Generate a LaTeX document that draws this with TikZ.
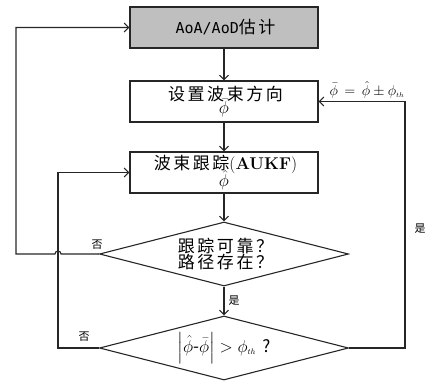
\documentclass[tikz,border=0pt]{standalone}
\usepackage{fontspec}
\usepackage{amsmath}
\newfontfamily\cjk[LetterSpace=15]{Noto Sans CJK SC}
\newfontfamily\monof{DejaVu Sans Mono}
\usetikzlibrary{shapes.geometric,arrows.meta}
\begin{document}
\begin{tikzpicture}[x=1pt,y=1pt,
  line width=1.1pt, draw=black!85,
  every node/.style={font=\cjk},
  box/.style={draw, line width=1.1pt, rectangle, minimum width=188pt, minimum height=41pt, inner sep=0pt, align=center},
  dia/.style={draw, line width=1.1pt, diamond, aspect=3.9, minimum width=249pt, minimum height=64pt, inner sep=0pt, align=center},
  arr/.style={-{Straight Barb[length=4.5pt,width=9pt]}},
  lbl/.style={font=\cjk\fontsize{11}{12}\selectfont, inner sep=1pt}]
\useasboundingbox (0,0) rectangle (429,-381);
\node[box, fill=black!25] (est) at (224,-27.5) {\hspace*{3pt}\monof\fontsize{15}{18}\selectfont AoA/AoD\cjk\fontsize{17}{18}\selectfont 估计};
\node[box] (set) at (224,-101.5) {\hspace*{3pt}{\fontsize{17}{20}\selectfont 设置波束方向}\\[-4pt] {\fontsize{16}{16}\selectfont $\bar{\phi}$}};
\node[box] (trk) at (224,-172.5) {\hspace*{3pt}{\fontsize{17}{20}\selectfont 波束跟踪{\rmfamily(\bfseries AUKF\mdseries)}}\\[-4pt] {\fontsize{16}{16}\selectfont $\hat{\phi}$}};
\node[dia] (d1) at (224,-254) {\hspace*{3pt}{\fontsize{17}{22}\selectfont 跟踪可靠？}\\ \hspace*{3pt}{\fontsize{17}{22}\selectfont 路径存在？}};
\node[dia] (d2) at (224,-348) {\fontsize{17}{20}\selectfont $\left|\hat{\phi}\text{-}\bar{\phi}\right| > \phi_{\scriptscriptstyle th}$ ?};
\draw[arr] (est) -- (set);
\draw[arr] (set) -- (trk);
\draw[arr] (trk) -- (d1);
\draw[arr] (d1) -- node[lbl, right, xshift=3pt] {是} (d2);
\draw[arr] (d1.west) -- (61,-254) arc (0:180:3) -- (16,-254) |- (est.west);
\draw[arr] (d2.west) -- (58,-348) |- (trk.west);
\draw[arr] (d2.east) -- (405,-348) |- (set.east);
\node[lbl] (no1) at (97,-245) {否};
\node[lbl] (no2) at (84,-337) {否};
\node[lbl] (yes1) at (420,-229) {是};
\node[lbl, font=\fontsize{15}{16}\selectfont] (eq) at (367,-90) {$\bar{\phi}\,=\,\hat{\phi}\pm\phi_{\scriptscriptstyle th}$};
\end{tikzpicture}
\end{document}
